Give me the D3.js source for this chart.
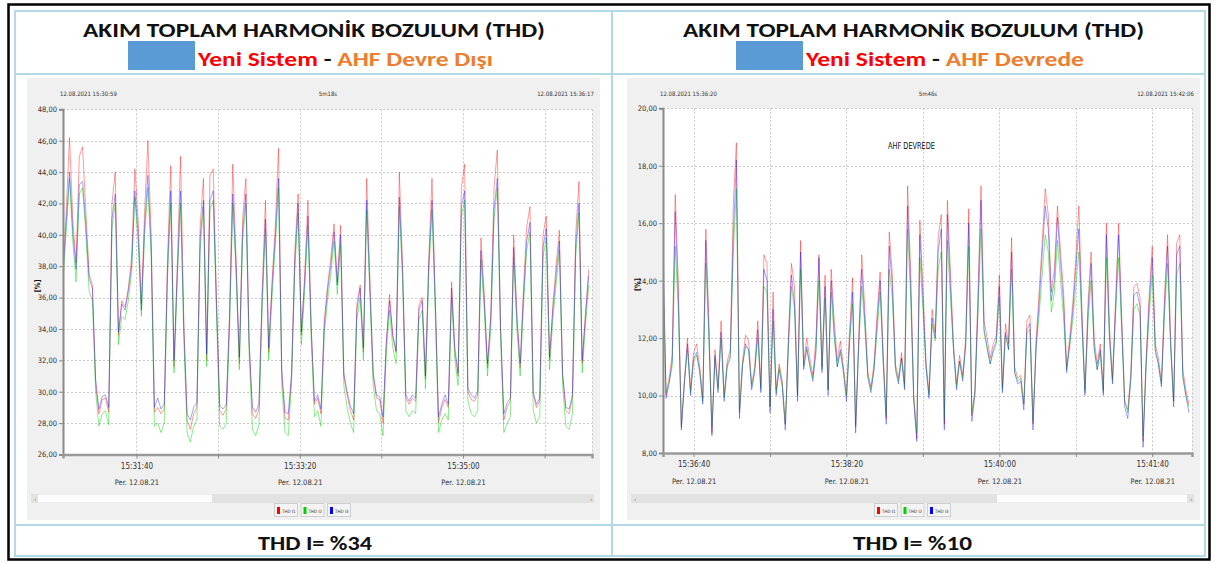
<!DOCTYPE html>
<html><head><meta charset="utf-8">
<script src="https://cdn.jsdelivr.net/npm/d3@7"></script>
<style>body{margin:0;background:#fff}svg{display:block}</style>
</head><body><svg id="c" width="1215" height="563"></svg>
<script>
// ---------- DATA ----------
const seriesNames = ["THD I1", "THD I2", "THD I3"];
const seriesColors = ["#ff0000", "#00d000", "#0000ff"];
const sampleStepSec = 2;

// Left chart: AHF Devre Dışı
const leftStart = "15:30:55", leftEnd = "15:36:19";
const leftTopLabels = ["12.08.2021 15:30:59", "5m18s", "12.08.2021 15:36:17"];
const leftYTicks = [26, 28, 30, 32, 34, 36, 38, 40, 42, 44, 46, 48];
const leftXTicks = ["15:31:40", "15:32:30", "15:33:20", "15:34:10", "15:35:00", "15:35:50"];
const leftXLabels = ["15:31:40", "15:33:20", "15:35:00"];
const leftRed = [38.0,41.5,46.2,41.0,38.2,45.0,45.6,41.5,37.5,36.8,30.5,28.6,29.5,29.6,28.7,42.0,44.0,33.6,35.8,35.4,36.6,38.5,44.2,41.0,35.6,41.5,46.0,40.0,28.7,29.0,28.6,28.9,38.5,44.4,31.6,38.0,45.0,34.5,28.2,27.6,28.6,29.0,40.5,43.6,32.0,43.8,44.2,36.0,28.8,28.5,28.9,35.0,44.5,38.5,31.8,41.0,43.6,33.0,28.6,28.3,28.9,36.5,42.2,32.5,37.0,40.5,45.5,31.0,28.3,28.2,31.0,39.0,42.6,33.6,37.4,42.2,34.0,29.2,29.6,28.6,34.5,36.7,38.5,40.7,37.0,40.6,31.0,29.8,28.8,28.2,35.6,36.8,32.5,43.6,37.0,31.0,29.6,29.5,28.0,33.0,36.2,33.5,32.5,44.0,38.0,29.6,29.2,29.6,29.4,35.5,36.0,30.8,38.5,43.6,36.0,28.0,29.0,29.5,29.0,37.0,32.5,31.0,43.0,44.5,30.0,29.5,29.4,29.8,39.8,36.2,31.5,35.0,43.0,45.4,34.0,28.2,29.0,29.4,40.0,35.0,31.5,36.5,40.5,41.8,29.8,29.0,29.4,40.0,41.2,32.0,35.5,38.0,40.3,31.0,28.8,28.6,29.6,40.0,43.4,31.8,35.0,37.8];
const leftGreen = [37.0,40.2,43.6,39.6,37.0,42.6,43.0,40.0,36.4,35.8,30.0,27.8,28.6,28.8,27.9,40.4,42.0,33.0,34.8,34.6,35.8,37.6,42.4,39.6,34.8,40.0,43.0,38.6,27.8,28.0,27.4,28.0,37.2,42.0,31.2,37.0,42.0,33.4,27.4,26.8,27.8,28.2,39.0,41.8,31.6,41.6,42.2,35.0,27.8,27.6,28.0,34.0,42.0,37.4,31.4,39.6,42.0,32.4,27.6,27.2,27.9,35.4,40.4,32.0,36.0,39.2,43.0,30.4,27.4,27.2,30.6,37.8,41.4,33.0,36.4,40.6,33.4,28.4,28.8,27.8,33.6,35.8,37.4,39.6,36.2,39.4,30.4,29.0,28.0,27.4,34.6,36.0,32.0,41.6,36.0,30.4,28.8,28.6,27.2,32.4,35.2,32.8,31.8,41.8,37.0,28.8,28.4,28.8,28.6,34.6,35.2,30.2,37.4,41.6,35.0,27.4,28.2,28.6,28.2,36.0,32.0,30.4,41.2,42.2,29.4,28.6,28.4,28.8,38.4,35.2,31.0,34.0,41.0,43.0,33.4,27.4,28.0,28.4,38.6,34.0,31.0,35.4,39.0,40.2,28.8,28.0,28.4,38.6,39.8,31.4,34.6,36.8,39.0,30.4,27.8,27.6,28.6,38.6,41.4,31.2,34.2,36.8];
const leftBlue = [37.6,40.8,44.0,40.2,37.8,43.2,43.4,40.6,37.2,36.6,30.8,28.9,29.7,29.8,29.0,41.0,42.6,33.8,35.6,35.2,36.4,38.0,42.8,40.2,35.2,40.6,43.8,39.2,29.0,29.6,28.9,29.2,37.8,42.8,32.0,37.6,42.8,34.0,28.6,28.2,29.0,29.3,39.8,42.2,32.4,42.2,42.8,35.6,29.1,28.9,29.2,34.6,42.6,38.0,32.2,40.2,42.6,33.2,29.0,28.7,29.2,36.0,41.0,32.8,36.6,39.8,43.6,31.4,28.7,28.6,31.2,38.4,42.0,33.8,37.0,41.2,34.2,29.4,29.8,28.9,34.2,36.4,38.0,40.2,36.8,40.0,31.2,30.0,29.1,28.6,35.2,36.6,32.8,42.2,36.6,31.2,29.8,29.7,28.4,33.2,35.8,33.6,32.6,42.4,37.6,29.8,29.4,29.8,29.6,35.2,35.8,31.0,38.0,42.2,35.8,28.4,29.2,29.8,29.2,36.6,32.8,31.2,41.8,42.8,30.2,29.8,29.6,30.0,39.0,35.8,31.8,34.6,41.6,43.6,34.2,28.6,29.3,29.6,39.2,34.6,31.8,36.0,39.6,40.8,30.0,29.2,29.6,39.2,40.4,32.2,35.2,37.4,39.6,31.2,29.0,28.9,29.8,39.2,42.0,32.0,34.8,37.4];

// Right chart: AHF Devrede
const rightStart = "15:36:20", rightEnd = "15:42:06";
const rightTopLabels = ["12.08.2021 15:36:20", "5m46s", "12.08.2021 15:42:06"];
const rightYTicks = [8, 10, 12, 14, 16, 18, 20];
const rightXTicks = ["15:36:40", "15:37:30", "15:38:20", "15:39:10", "15:40:00", "15:40:50", "15:41:40"];
const rightXLabels = ["15:36:40", "15:38:20", "15:40:00", "15:41:40"];
const rightNote = "AHF DEVREDE";
const rightRed = [14.5,10.0,10.6,11.4,17.0,14.0,8.9,10.5,12.0,10.2,11.5,11.8,11.0,9.9,15.8,12.6,8.7,11.6,10.3,12.6,10.0,11.2,11.6,16.7,18.8,9.5,11.2,12.1,11.9,10.4,11.0,12.6,10.3,14.9,14.6,9.6,13.6,10.2,11.1,10.5,9.0,12.0,14.6,13.8,10.0,15.4,11.1,12.0,11.3,10.7,11.9,14.9,11.0,14.2,10.2,14.4,12.6,11.2,11.9,11.0,10.0,12.2,14.1,8.9,12.0,14.9,13.0,10.8,10.3,11.1,12.8,14.3,11.5,9.2,15.7,14.2,11.1,10.6,11.5,10.4,17.3,14.3,10.0,8.5,16.1,13.8,11.2,10.1,13.0,12.2,15.5,16.3,9.0,16.8,14.3,11.8,10.4,11.4,10.7,12.0,16.5,9.3,10.2,13.5,17.3,12.6,12.0,11.3,11.8,12.1,14.2,10.3,12.5,11.8,15.5,11.0,10.6,10.7,9.7,12.6,12.8,9.0,11.9,13.6,15.3,17.2,16.3,13.6,14.4,16.6,15.0,13.6,11.0,12.0,13.2,14.8,16.6,13.0,10.2,13.2,15.0,12.0,11.1,11.8,10.2,16.0,12.4,10.6,13.3,16.0,12.8,9.8,9.5,10.8,13.8,13.9,13.4,8.4,11.3,13.5,15.2,11.8,11.3,10.5,13.4,15.6,12.0,9.8,15.3,15.6,10.9,10.2,9.7];
const rightGreen = [14.0,10.1,10.5,11.0,15.2,13.0,9.0,10.5,11.6,10.1,11.2,11.4,10.9,9.8,14.6,12.0,8.9,11.3,10.2,12.0,9.9,11.1,11.4,15.0,17.2,9.4,11.1,11.7,11.6,10.3,10.9,12.0,10.2,13.8,13.6,9.6,12.6,10.1,11.0,10.4,9.0,11.6,13.8,13.0,10.0,14.4,11.0,11.6,11.1,10.6,11.4,14.0,10.9,13.4,10.2,13.6,12.0,11.0,11.5,10.9,10.0,11.8,13.2,9.0,11.7,13.8,12.4,10.7,10.2,10.9,12.2,13.6,11.2,9.3,14.4,13.4,11.0,10.5,11.3,10.3,15.8,13.4,9.9,8.7,14.8,13.0,11.0,10.0,12.5,11.9,14.4,15.0,9.2,15.4,13.4,11.6,10.3,11.2,10.6,11.7,15.2,9.4,10.1,12.8,15.8,12.2,11.6,11.1,11.5,11.8,13.4,10.2,12.1,11.6,14.4,10.8,10.5,10.6,9.7,12.2,12.3,9.1,11.6,12.8,14.2,15.6,15.0,12.9,13.6,15.4,14.0,12.7,10.9,11.7,12.6,13.8,15.0,12.4,10.1,12.6,14.0,11.6,10.9,11.5,10.1,14.8,12.0,10.5,12.8,14.8,12.3,9.8,9.4,10.6,13.0,13.2,12.8,8.6,11.0,12.8,14.2,11.5,11.1,10.4,12.8,14.6,11.7,9.8,14.2,14.6,10.6,10.0,9.6];
const rightBlue = [15.6,9.9,10.4,11.2,16.4,13.4,8.8,10.4,11.8,10.0,11.3,11.5,10.8,9.7,15.4,12.2,8.6,11.4,10.1,12.2,9.8,11.0,11.3,15.6,18.2,9.2,11.0,11.8,11.6,10.2,10.8,12.3,10.1,14.4,14.0,9.4,13.0,10.0,10.9,10.3,8.8,11.8,14.2,13.2,9.8,15.0,10.9,11.7,11.0,10.5,11.6,14.8,10.8,13.8,10.0,14.0,12.2,11.0,11.6,10.8,9.8,11.9,13.6,8.7,11.8,14.4,12.6,10.6,10.1,10.9,12.5,14.0,11.2,9.0,15.2,13.8,10.9,10.4,11.3,10.2,16.6,13.8,9.8,8.4,15.6,13.4,11.0,9.9,12.7,12.0,15.0,15.8,8.8,16.3,13.8,11.6,10.2,11.2,10.5,11.8,16.0,9.1,10.0,13.1,16.8,12.3,11.7,11.1,11.6,11.9,13.8,10.1,12.2,11.6,15.0,10.8,10.4,10.5,9.5,12.3,12.5,8.8,11.7,13.2,14.9,16.6,15.8,13.3,14.0,16.2,14.6,13.2,10.8,11.8,12.9,14.4,15.8,12.7,10.0,12.9,14.6,11.7,10.9,11.6,10.0,15.6,12.1,10.4,13.0,15.6,12.5,9.6,9.2,10.6,13.5,13.6,13.1,8.2,11.1,13.2,14.8,11.6,11.1,10.3,13.1,15.2,11.8,9.6,14.9,15.2,10.7,10.0,9.4];

const dateLabel = "Per. 12.08.21";
const titleLine1 = "AKIM TOPLAM HARMONİK BOZULUM (THD)";
const leftSubtitle = ["Yeni Sistem", " - ", "AHF Devre Dışı"];
const rightSubtitle = ["Yeni Sistem", " - ", "AHF Devrede"];
const footerValues = ["THD I= %34", "THD I= %10"];

// ---------- DRAW ----------
const svg = d3.select("#c");
const parseT = d3.timeParse("%H:%M:%S");
const fmtY = v => d3.format(".2f")(v).replace(".", ",");
const titleFont = "Carlito, Lato, 'Open Sans', 'Liberation Sans', sans-serif";
const smallFont = "'DejaVu Sans Condensed', 'Liberation Sans Narrow', 'Liberation Sans', Arial, sans-serif";
const tableBlue = "#b3d9e6";

svg.append("rect").attr("width", 1215).attr("height", 563).attr("fill", "#fff");

// table frame
svg.append("rect").attr("x", 15).attr("y", 11).attr("width", 1190).attr("height", 545)
  .attr("fill", "none").attr("stroke", tableBlue).attr("stroke-width", 2);
svg.append("line").attr("x1", 612).attr("x2", 612).attr("y1", 11).attr("y2", 556).attr("stroke", tableBlue).attr("stroke-width", 2);
svg.append("line").attr("x1", 15).attr("x2", 1205).attr("y1", 74).attr("y2", 74).attr("stroke", tableBlue).attr("stroke-width", 2);
svg.append("line").attr("x1", 15).attr("x2", 1205).attr("y1", 525).attr("y2", 525).attr("stroke", tableBlue).attr("stroke-width", 2);
// outer black frame
svg.append("rect").attr("x", 8.5).attr("y", 4.5).attr("width", 1201).attr("height", 555)
  .attr("fill", "none").attr("stroke", "#000").attr("stroke-width", 2.5);

function header(cx0, cx1, boxX, sub, subX0, subX1) {
  svg.append("text").attr("x", cx0).attr("y", 37).attr("font-family", titleFont).attr("font-weight", "bold")
    .attr("font-size", 21).attr("fill", "#111").attr("textLength", cx1 - cx0).attr("lengthAdjust", "spacingAndGlyphs")
    .text(titleLine1);
  svg.append("rect").attr("x", boxX).attr("y", 41).attr("width", 67).attr("height", 29).attr("fill", "#5b9bd5");
  const t = svg.append("text").attr("x", subX0).attr("y", 66).attr("font-family", titleFont).attr("font-weight", "bold")
    .attr("font-size", 21).attr("textLength", subX1 - subX0).attr("lengthAdjust", "spacingAndGlyphs");
  t.append("tspan").attr("fill", "#ff0000").text(sub[0]);
  t.append("tspan").attr("fill", "#111").text(sub[1]);
  t.append("tspan").attr("fill", "#ed7d31").text(sub[2]);
}
header(83, 545, 128, leftSubtitle, 198, 493);
header(683, 1144, 736, rightSubtitle, 806, 1084);

function footer(x0, x1, txt) {
  svg.append("text").attr("x", x0).attr("y", 550).attr("font-family", titleFont).attr("font-weight", "bold")
    .attr("font-size", 20).attr("fill", "#111").attr("textLength", x1 - x0).attr("lengthAdjust", "spacingAndGlyphs").text(txt);
}
footer(258, 372, footerValues[0]);
footer(853, 972, footerValues[1]);

function drawChart(c) {
  const g = svg.append("g");
  g.append("rect").attr("x", c.panel[0]).attr("y", 78).attr("width", c.panel[1] - c.panel[0]).attr("height", 442)
    .attr("fill", "#f0f0f0");
  const x = d3.scaleTime().domain([parseT(c.start), parseT(c.end)]).range([c.px0, c.px1]);
  const y = d3.scaleLinear().domain(d3.extent(c.yTicks)).range([c.py1, c.py0]);
  g.append("rect").attr("x", c.px0).attr("y", c.py0).attr("width", c.px1 - c.px0).attr("height", c.py1 - c.py0).attr("fill", "#fff");

  // grid
  g.append("g").selectAll("line").data(c.yTicks.slice(1)).join("line")
    .attr("x1", c.px0).attr("x2", c.px1).attr("y1", d => Math.round(y(d)) + 0.5).attr("y2", d => Math.round(y(d)) + 0.5)
    .attr("stroke", "#c8c8c8").attr("stroke-dasharray", "2,2");
  g.append("g").selectAll("line").data(c.xTicks.map(parseT)).join("line")
    .attr("x1", d => Math.round(x(d)) + 0.5).attr("x2", d => Math.round(x(d)) + 0.5).attr("y1", c.py0).attr("y2", c.py1)
    .attr("stroke", "#c8c8c8").attr("stroke-dasharray", "2,2");
  g.append("line").attr("x1", c.px1 + 0.5).attr("x2", c.px1 + 0.5).attr("y1", c.py0).attr("y2", c.py1)
    .attr("stroke", "#c8c8c8").attr("stroke-dasharray", "2,2");

  // note
  if (c.note) {
    g.append("text").attr("x", c.note[1]).attr("y", c.note[2]).attr("font-family", smallFont).attr("font-size", 8)
      .attr("fill", "#111").attr("textLength", 47).attr("lengthAdjust", "spacingAndGlyphs").text(c.note[0]);
  }

  // series
  const clipId = "clip" + c.px0;
  g.append("clipPath").attr("id", clipId).append("rect").attr("x", c.px0).attr("y", c.py0 - 2)
    .attr("width", c.px1 - c.px0).attr("height", c.py1 - c.py0 + 2);
  const t0 = parseT(c.start);
  const line = d3.line().x((d, i) => x(new Date(t0.getTime() + i * sampleStepSec * 1000))).y(d => y(d));
  const lg = g.append("g").attr("clip-path", `url(#${clipId})`);
  const opac = [0.4, 0.45, 0.36];
  c.series.forEach((s, k) => {
    lg.append("path").datum(s).attr("d", line).attr("fill", "none")
      .attr("stroke", seriesColors[k]).attr("stroke-width", 1).attr("stroke-opacity", opac[k]);
  });

  // axes
  const yAxis = d3.axisLeft(y).tickValues(c.yTicks).tickFormat(fmtY).tickSize(4).tickPadding(2);
  const ya = g.append("g").attr("transform", `translate(${c.px0},0)`).call(yAxis);
  ya.select(".domain").attr("stroke", "#8a8a8a").attr("stroke-width", 2);
  ya.selectAll(".tick line").attr("stroke", "#8a8a8a");
  ya.selectAll(".tick text").attr("font-family", smallFont).attr("font-size", 7.5).attr("fill", "#333");

  const labelSet = new Set(c.xLabels);
  const xAxis = d3.axisBottom(x).tickValues(c.xTicks.map(parseT)).tickSize(4)
    .tickFormat(d => labelSet.has(d3.timeFormat("%H:%M:%S")(d)) ? d3.timeFormat("%H:%M:%S")(d) : "");
  const xa = g.append("g").attr("transform", `translate(0,${c.py1})`).call(xAxis);
  xa.select(".domain").attr("stroke", "#9a9a9a").attr("stroke-width", 2.5);
  xa.selectAll(".tick line").attr("stroke", "#8a8a8a");
  xa.selectAll(".tick text").attr("font-family", smallFont).attr("font-size", 8).attr("fill", "#333").attr("dy", "0.9em");
  xa.selectAll(".tick").filter(d => labelSet.has(d3.timeFormat("%H:%M:%S")(d)))
    .append("text").attr("y", 24).attr("dy", "0.9em").attr("text-anchor", "middle")
    .attr("font-family", smallFont).attr("font-size", 7.5).attr("fill", "#333").text(dateLabel);

  // y-axis unit
  g.append("text").attr("transform", `translate(${c.px0 - 23},${(c.py0 + c.py1) / 2 + 4}) rotate(-90)`)
    .attr("text-anchor", "middle").attr("font-family", smallFont).attr("font-weight", "bold").attr("font-size", 7.5)
    .attr("fill", "#111").text("[%]");

  // top labels
  const tl = c.topLabels;
  g.append("text").attr("x", c.px0 - 3).attr("y", 96).attr("font-family", smallFont).attr("font-size", 6)
    .attr("fill", "#333").text(tl[0]);
  g.append("text").attr("x", c.px0 + 265).attr("y", 96).attr("font-family", smallFont).attr("font-size", 6)
    .attr("fill", "#333").attr("text-anchor", "middle").text(tl[1]);
  g.append("text").attr("x", c.px1 + 2).attr("y", 96).attr("font-family", smallFont).attr("font-size", 6)
    .attr("fill", "#333").attr("text-anchor", "end").text(tl[2]);

  // scrollbar
  g.append("rect").attr("x", c.panel[0] + 4).attr("y", 494).attr("width", c.panel[1] - c.panel[0] - 10).attr("height", 9)
    .attr("fill", "#e2e2e2");
  g.append("rect").attr("x", c.thumb[0]).attr("y", 494.5).attr("width", c.thumb[1] - c.thumb[0]).attr("height", 8)
    .attr("fill", "#fcfcfc");
  g.append("text").attr("x", c.panel[0] + 7).attr("y", 501).attr("font-size", 7).attr("fill", "#777").text("‹");
  g.append("text").attr("x", c.panel[1] - 10).attr("y", 501).attr("font-size", 7).attr("fill", "#777").text("›");

  // legend
  seriesNames.forEach((n, k) => {
    const lx = c.legendX + k * 26.5;
    g.append("rect").attr("x", lx + 0.5).attr("y", 503.5).attr("width", 23).attr("height", 13)
      .attr("fill", "#f4f4f4").attr("stroke", "#cfcfcf");
    g.append("rect").attr("x", lx + 3).attr("y", 507).attr("width", 3).attr("height", 7).attr("fill", seriesColors[k]);
    g.append("text").attr("x", lx + 8).attr("y", 512.5).attr("font-family", smallFont).attr("font-size", 4.5)
      .attr("fill", "#333").text(n);
  });
}

drawChart({
  panel: [27, 600], px0: 63, px1: 592, py0: 109.3, py1: 454.5,
  start: leftStart, end: leftEnd, yTicks: leftYTicks, xTicks: leftXTicks, xLabels: leftXLabels,
  topLabels: leftTopLabels, thumb: [38, 212], legendX: 274,
  series: [leftRed, leftGreen, leftBlue]
});
drawChart({
  panel: [627, 1200], px0: 663, px1: 1192, py0: 108.3, py1: 453,
  start: rightStart, end: rightEnd, yTicks: rightYTicks, xTicks: rightXTicks, xLabels: rightXLabels,
  topLabels: rightTopLabels, thumb: [997, 1187], legendX: 874, note: [rightNote, 888, 149],
  series: [rightRed, rightGreen, rightBlue]
});
</script></body></html>
